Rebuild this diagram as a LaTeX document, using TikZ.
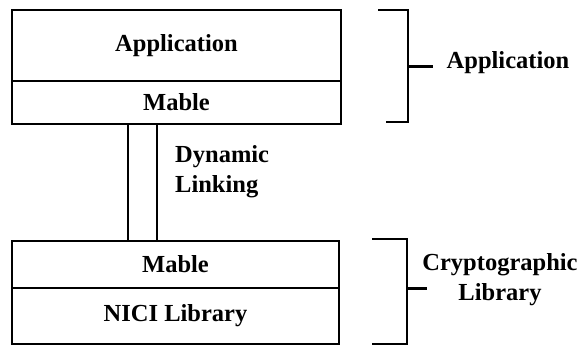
\documentclass[tikz,border=0pt]{standalone}
\usepackage{fontspec}
\setmainfont{Liberation Serif}
\begin{document}
\begin{tikzpicture}[x=1pt,y=-1pt,
  lbl/.style={font=\fontsize{24.5}{30}\selectfont\bfseries, inner sep=0pt},
  layer/.style={draw, line width=1.6pt, rectangle, inner sep=0pt, lbl},
  brk/.style={line width=1.6pt},
  tick/.style={line width=3pt}]
\useasboundingbox (0,0) rectangle (580,346);
% top stack
\node[layer, minimum width=329pt, minimum height=71pt] (app) at (176.5,45.5) {Application};
\node[layer, minimum width=329pt, minimum height=43pt] (mableTop) at (176.5,102.5) {Mable};
% bottom stack
\node[layer, minimum width=327pt, minimum height=47pt] (mableBot) at (175.5,264.5) {Mable};
\node[layer, minimum width=327pt, minimum height=56pt] (nici) at (175.5,316) {NICI Library};
% dynamic linking connectors
\draw[line width=1.6pt] ([xshift=-48.5pt]mableTop.south) -- ([xshift=-48.5pt]mableTop.south |- mableBot.north);
\draw[line width=1.6pt] ([xshift=-19.5pt]mableTop.south) -- ([xshift=-19.5pt]mableTop.south |- mableBot.north);
\node[lbl, align=left, anchor=west] (dyn) at (175,172) {Dynamic\\Linking};
% top bracket
\coordinate (ba1) at (378,10);
\coordinate (ba2) at (408,10);
\coordinate (ba3) at (408,122);
\coordinate (ba4) at (386,122);
\coordinate (bam) at (407,66);
\draw[brk] (ba1) -- (ba2) -- (ba3) -- (ba4);
\node[lbl] (appl) at (508,63) {Application};
\coordinate (bat) at (433,66);
\draw[tick] (bam) -- (bat);
% bottom bracket
\coordinate (bb1) at (372,239);
\coordinate (bb2) at (407,239);
\coordinate (bb3) at (407,344);
\coordinate (bb4) at (372,344);
\coordinate (bbm) at (406,288);
\draw[brk] (bb1) -- (bb2) -- (bb3) -- (bb4);
\node[lbl, align=center] (crypt) at (500,280) {Cryptographic\\Library};
\coordinate (bbt) at (427,288);
\draw[tick] (bbm) -- (bbt);
\end{tikzpicture}
\end{document}
